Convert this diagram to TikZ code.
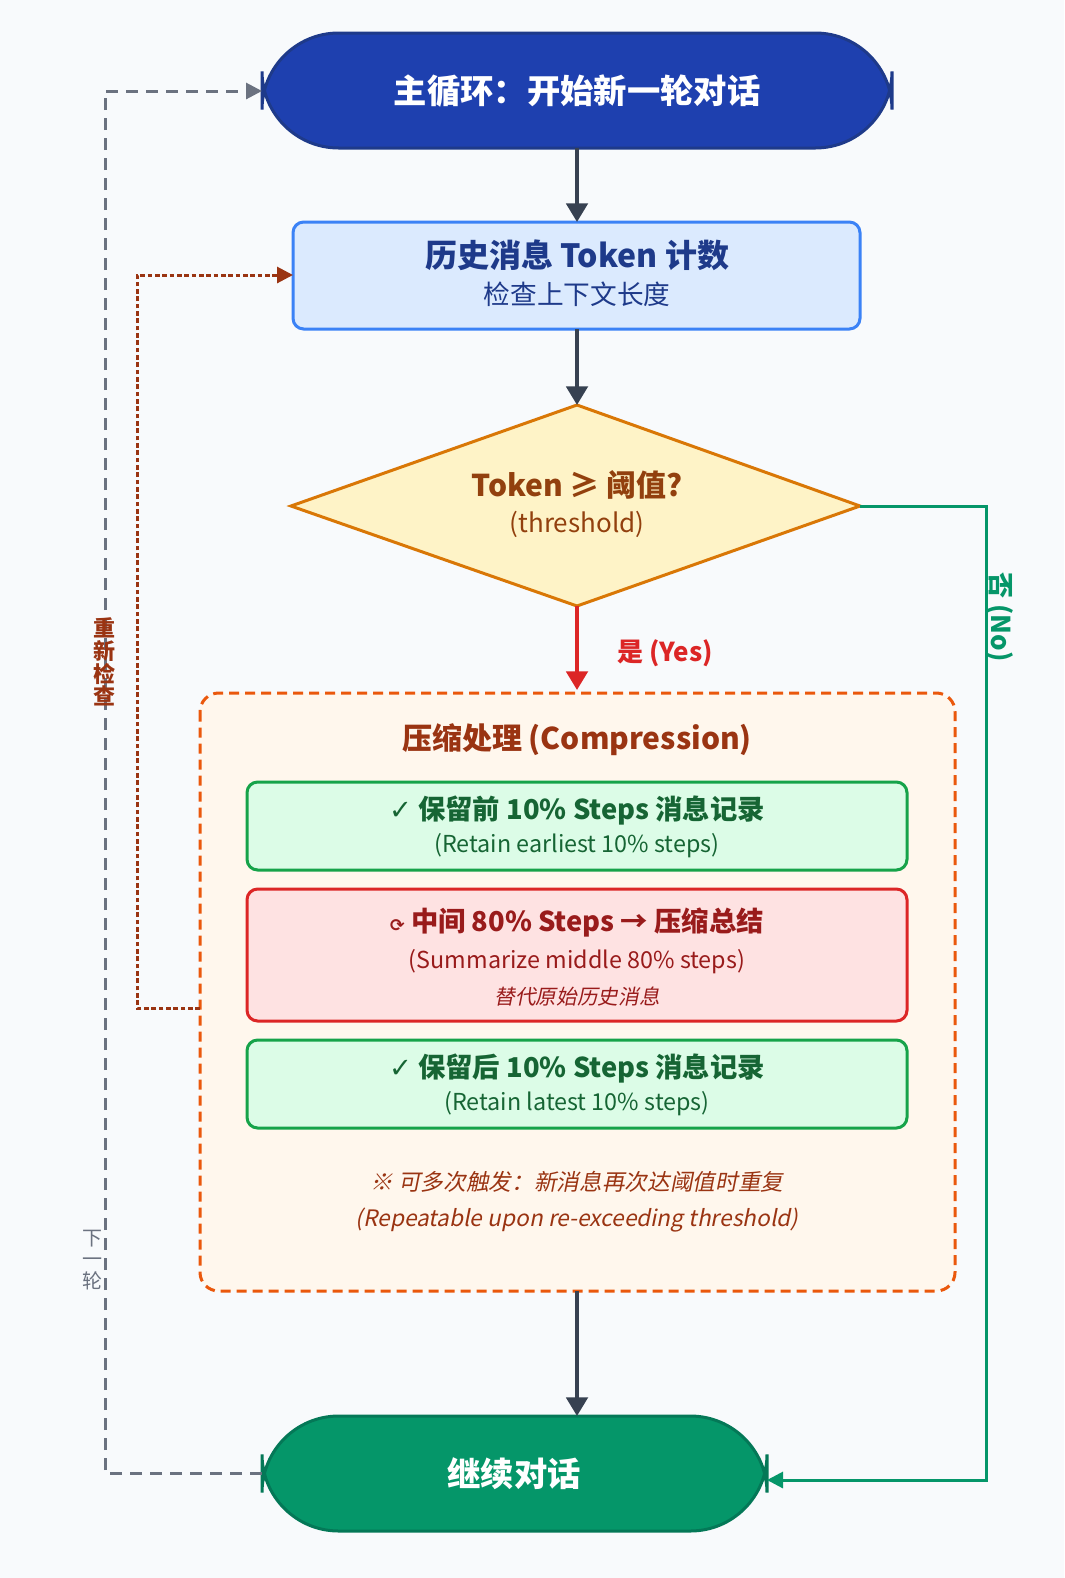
\documentclass[tikz,border=0pt]{standalone}
\usepackage{fontspec}
\setmainfont{Noto Sans CJK SC}[ItalicFont={Noto Sans CJK SC},ItalicFeatures={FakeSlant=0.2},BoldItalicFont={Noto Sans CJK SC Bold},BoldItalicFeatures={FakeSlant=0.2}]
\newfontfamily\symf{DejaVu Sans}
\usepackage{tikz}
\usetikzlibrary{shapes.geometric, arrows.meta, positioning}
\definecolor{bgc}{HTML}{F8FAFC}
\definecolor{blued}{HTML}{1E40AF}
\definecolor{bluedd}{HTML}{1E3A8A}
\definecolor{bluel}{HTML}{DBEAFE}
\definecolor{bluem}{HTML}{3B82F6}
\definecolor{ambl}{HTML}{FEF3C7}
\definecolor{ambm}{HTML}{D97706}
\definecolor{ambd}{HTML}{92400E}
\definecolor{orm}{HTML}{EA580C}
\definecolor{orl}{HTML}{FFF7ED}
\definecolor{ord}{HTML}{9A3412}
\definecolor{grl}{HTML}{DCFCE7}
\definecolor{grm}{HTML}{16A34A}
\definecolor{grd}{HTML}{166534}
\definecolor{rdl}{HTML}{FEE2E2}
\definecolor{rdm}{HTML}{DC2626}
\definecolor{rdd}{HTML}{991B1B}
\definecolor{emm}{HTML}{059669}
\definecolor{emd}{HTML}{047857}
\definecolor{slt}{HTML}{374151}
\definecolor{gry}{HTML}{6B7280}
\tikzset{
  pill/.style={rounded corners=57.5, line width=2.25pt, text=white, font=\bfseries\fontsize{25}{30}\selectfont},
  stepbox/.style={rounded corners=8, line width=2.25pt, align=center},
  arrow/.style={line width=3pt, -{Triangle[length=14pt,width=16pt]}},
  sidearrow/.style={line width=2.25pt, -{Triangle[length=12pt,width=12pt]}},
}
\begin{document}
\begin{tikzpicture}[x=0.75pt,y=-0.75pt]
\fill[bgc] (0,0) rectangle (1064,1578);
% start / end
\draw[pill, fill=blued, draw=bluedd] (262,33) rectangle (892,148);
\node[text=white, font=\bfseries\fontsize{25}{30}\selectfont] (start) at (577,91) {主循环：开始新一轮对话};
\coordinate (startL) at (262,91);
\coordinate (startB) at (577,148);
% token count
\draw[stepbox, fill=bluel, draw=bluem] (293,222) rectangle (860,329);
\coordinate (cntT) at (577,222);
\coordinate (cntB) at (577,329);
\coordinate (cntL) at (293,275);
\node[text=bluedd, font=\bfseries\fontsize{24}{28}\selectfont] (cnt) at (577,255) {历史消息 Token 计数};
\node[text=bluedd, font=\fontsize{20}{24}\selectfont] (cntsub) at (577,294) {检查上下文长度};
% decision
\draw[line width=2.25pt, draw=ambm, fill=ambl, line join=miter] (577,405) coordinate (decT) -- (860,506) coordinate (decR) -- (577,606) coordinate (decB) -- (291,506) -- cycle;
\node[text=ambd, font=\bfseries\fontsize{22.5}{26}\selectfont] (dec) at (577,485) {Token ≥ 阈值?};
\node[text=ambd, font=\fontsize{19.5}{24}\selectfont] (decsub) at (577,524) {(threshold)};
% compression
\draw[rounded corners=14, line width=2.25pt, dash pattern=on 7.5pt off 4.5pt, draw=orm, fill=orl] (200,693) rectangle (955,1291);
\coordinate (cmpT) at (577,690);
\coordinate (cmpB) at (577,1291);
\coordinate (cmpL) at (200,1008);
\node[text=ord, font=\bfseries\fontsize{22.5}{26}\selectfont] (cmp) at (577,740) {压缩处理 (Compression)};
\draw[stepbox, fill=grl, draw=grm] (247,782) rectangle (907,870);
\node[text=grd, font=\bfseries\fontsize{20.5}{24}\selectfont] (keepA) at (577,810) {{\symf ✓} 保留前 10\% Steps 消息记录};
\node[text=grd, font=\fontsize{17.5}{22}\selectfont] (keepAs) at (577,846) {(Retain earliest 10\% steps)};
\draw[stepbox, fill=rdl, draw=rdm] (247,889) rectangle (907,1021);
\node[text=rdd, font=\bfseries\fontsize{20.5}{24}\selectfont] (mid) at (577,923) {{\symf\fontsize{13}{14}\selectfont ⟳} 中间 80\% Steps → 压缩总结};
\node[text=rdd, font=\fontsize{17.5}{22}\selectfont] (mids) at (577,962) {(Summarize middle 80\% steps)};
\node[text=rdd, font=\itshape\fontsize{15.5}{20}\selectfont] (midn) at (577,997) {替代原始历史消息};
\draw[stepbox, fill=grl, draw=grm] (247,1040) rectangle (907,1128);
\node[text=grd, font=\bfseries\fontsize{20.5}{24}\selectfont] (keepB) at (577,1068) {{\symf ✓} 保留后 10\% Steps 消息记录};
\node[text=grd, font=\fontsize{17.5}{22}\selectfont] (keepBs) at (577,1104) {(Retain latest 10\% steps)};
\node[text=ord, font=\itshape\fontsize{17}{22}\selectfont] (note) at (577,1182) {※ 可多次触发：新消息再次达阈值时重复};
\node[text=ord, font=\itshape\fontsize{17}{22}\selectfont] (notes) at (577,1220) {(Repeatable upon re-exceeding threshold)};
% end
\draw[pill, fill=emm, draw=emd] (262,1416) rectangle (767,1531);
\node[text=white, font=\bfseries\fontsize{25}{30}\selectfont] (stop) at (514,1474) {继续对话};
\coordinate (stopT) at (577,1416);
\coordinate (stopL) at (262,1473);
\coordinate (stopR) at (767,1480);
% connectors
\draw[arrow, slt] (startB) -- (cntT);
\draw[arrow, slt] (cntB) -- (decT);
\draw[arrow, rdm] (decB) -- (cmpT);
\node[text=rdm, font=\bfseries\fontsize{19.5}{24}\selectfont] (yes) at (665,653) {是 (Yes)};
\draw[arrow, slt] (cmpB) -- (stopT);
\draw[sidearrow, emm] (decR) -- (986,506) -- (986,1480) -- (stopR);
\node[text=emm, rotate=-90, font=\bfseries\fontsize{19.5}{24}\selectfont] (no) at (1000,617) {否 (No)};
\draw[sidearrow, ord, dash pattern=on 3.5pt off 2pt] (cmpL) -- (137,1008) -- (137,275) -- (cntL);
\draw[sidearrow, gry, dash pattern=on 9pt off 6pt] (stopL) -- (105,1473) -- (105,91) -- (startL);
\node[text=ord, font=\bfseries\fontsize{16.5}{17}\selectfont, align=center] (recheck) at (104,662) {重\\新\\检\\查};
\node[text=gry, font=\fontsize{15}{16}\selectfont, align=center] (nextr) at (92,1260) {下\\一\\轮};
\end{tikzpicture}
\end{document}
